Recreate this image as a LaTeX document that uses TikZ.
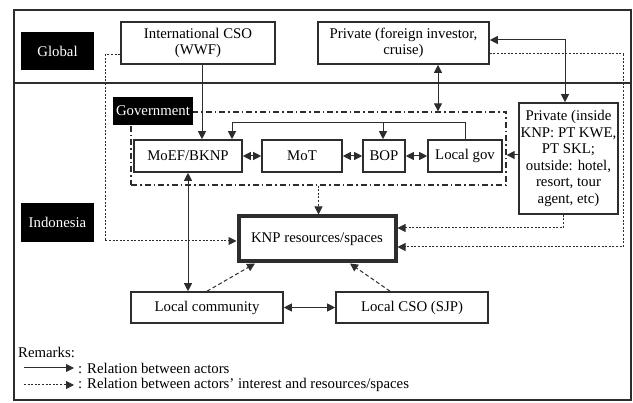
\documentclass[tikz,border=0pt]{standalone}
\usepackage{fontspec}
\setmainfont{Liberation Serif}
\usetikzlibrary{arrows.meta,positioning}
\definecolor{ink}{RGB}{45,45,45}
\tikzset{
  % arrow
	kra/.style    ={-{Triangle[length=8pt,width=8pt]}, line width=1pt, draw=ink}, % right arrow
	klra/.style   ={{Triangle[length=8pt,width=8pt]}-{Triangle[length=8pt,width=8pt]}, line width=1pt, draw=ink}, % left-right arrow
	kdotra/.style ={kra, dash pattern=on 2pt off 1.6pt}, % dotted arrow
	kdashra/.style={kra, dash pattern=on 4pt off 2.5pt}, % dashed arrow
  % node
	kbox/.style   ={draw=ink, line width=1.6pt, fill=white, align=center, inner sep=0pt},
	klabel/.style ={fill=black, text=white, inner sep=0pt},
	kgov/.style   ={draw=ink, line width=1.3pt, dash pattern=on 6pt off 3pt on 1.5pt off 3pt, inner sep=0pt}
}

\begin{document}
\begin{tikzpicture}[x=1pt,y=-1pt,font=\fontsize{14.8}{16.5}\selectfont]
	\useasboundingbox (0,0) rectangle (633,403);
	% frame
	\draw[ink,line width=1.6pt] (14,10) rectangle (631,400);
	\draw[ink,line width=1.6pt] (14,83) -- (631,83);
	% levels
	\node[klabel,minimum width=73pt,minimum height=38pt] (glob) at (57.5,51) {Global};
	\node[klabel,minimum width=73pt,minimum height=39pt] (indo) at (57.5,222.5) {Indonesia};
	% government
	\node[kgov,minimum width=375pt,minimum height=73pt] (gov) at (318.5,148.5) {};
	\node[klabel,minimum width=80pt,minimum height=28pt] (govlab) at (153,111) {Government};
	% actors
	\node[kbox,minimum width=154pt,minimum height=42pt] (icso) at (198,43) {International CSO\\(WWF)};
	\node[kbox,minimum width=171pt,minimum height=42pt] (pfor) at (403.5,43) {Private (foreign investor,\\cruise)};
	\node[kbox,minimum width=108pt,minimum height=32pt] (moef) at (188,156) {MoEF/BKNP};
	\node[kbox,minimum width=80pt,minimum height=32pt] (mot) at (302,156) {MoT};
	\node[kbox,minimum width=42pt,minimum height=32pt] (bop) at (384,156) {BOP};
	\node[kbox,minimum width=74pt,minimum height=32pt] (lgov) at (465,156) {Local gov};
	\node[kbox,minimum width=99pt,minimum height=111pt] (pin) at (568.5,158.5) {Private (inside\\KNP: PT KWE,\\PT SKL;\\outside: hotel,\\resort, tour\\agent, etc)};
	\node[kbox,line width=4pt,minimum width=157pt,minimum height=45pt] (knp) at (317,239) {KNP resources/spaces};
	\node[kbox,minimum width=152pt,minimum height=31pt] (lcom) at (207,307.5) {Local community};
	\node[kbox,minimum width=152pt,minimum height=31pt] (lcso) at (412,307.5) {Local CSO (SJP)};
	% relations between actors
	\coordinate (busl) at (232,123);
	\coordinate (busm) at (383,123);
	\draw[kra] ([xshift=4pt]icso.south) -- ([xshift=4pt]icso.south |- moef.north);
	\draw[kra] (lgov.north) -- (lgov.north |- busl) -- (busl) -- (busl |- moef.north);
	\draw[kra] (busm) -- (busm |- bop.north);
	\draw[klra] (moef) -- (mot);
	\draw[klra] (mot) -- (bop);
	\draw[klra] (bop) -- (lgov);
	\draw[klra] ([xshift=34.5pt]pfor.south) -- ([xshift=34.5pt]pfor.south |- gov.north);
	\draw[klra] ([yshift=3pt]pfor.east) -| ([xshift=-3.5pt]pin.north);
	\draw[kra] ([yshift=3.5pt]pin.west) -- ([yshift=3.5pt]pin.west -| gov.east);
	\draw[klra] (moef.south) -- (moef.south |- lcom.north);
	\draw[klra] (lcom) -- (lcso);
	% relations to resources/spaces
	\coordinate (lc) at (105,241);
	\coordinate (rc) at (623,247);
	\draw[kdotra] (gov.south) -- (gov.south |- knp.north);
	\draw[kdotra] ([yshift=-12pt]icso.west) -| (lc) -- (lc -| knp.west);
	\draw[kdotra] ([yshift=-11pt]pfor.east) -| (rc) -- (rc -| knp.east);
	\draw[kdotra] ([xshift=-5.5pt]pin.south) |- ([yshift=11pt]knp.east);
	\draw[kdashra] (lcom.north) -- ([xshift=-62pt]knp.south);
	\draw[kdashra] ([xshift=-22pt]lcso.north) -- ([xshift=33pt]knp.south);
	% remarks
	\node[anchor=west,inner sep=0pt] (rem) at (18,352) {Remarks:};
	\coordinate (l1) at (24,368);
	\coordinate (l2) at (24,385);
	\node[anchor=west,inner sep=0pt] (t1) at (78,368) {: Relation between actors};
	\node[anchor=west,inner sep=0pt] (t2) at (78,385) {: Relation between actors’ interest and resources/spaces};
	\draw[kra] (l1) -- ([xshift=-4pt]t1.west |- l1);
	\draw[kdotra] (l2) -- ([xshift=-4pt]t2.west |- l2);
\end{tikzpicture}
\end{document}
